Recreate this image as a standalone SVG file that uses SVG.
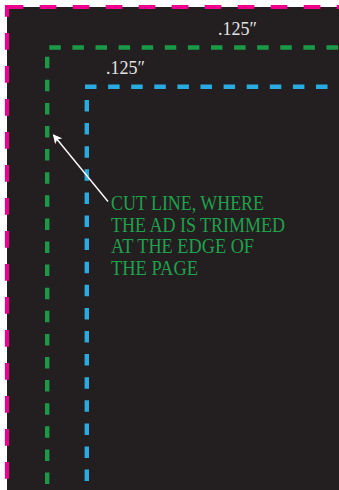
<svg xmlns="http://www.w3.org/2000/svg" width="339" height="490" viewBox="0 0 339 490">
<defs>
<style>
.pink{stroke:#ec008c;stroke-width:4.2;fill:none;stroke-dasharray:16.7 16.3}
.green{stroke:#1a9a47;stroke-width:4.4;fill:none;stroke-dasharray:11.5 11.6}
.blue{stroke:#29abe2;stroke-width:4.4;fill:none;stroke-dasharray:11.5 11.6}
.dim{font-family:"Liberation Serif",serif;font-size:18px;fill:#e2e2e2}
.lbl{font-family:"Liberation Serif",serif;font-size:20px;fill:#1fa14c}
</style>
<marker id="ah" viewBox="0 0 10 10" refX="9" refY="5" markerWidth="10" markerHeight="9" markerUnits="userSpaceOnUse" orient="auto">
<path d="M0,0 L10,5 L0,10 L2.5,5 Z" fill="#ffffff"/>
</marker>
</defs>
<rect width="339" height="490" fill="#ffffff"/>
<rect x="7" y="7" width="332" height="483" fill="#231f20"/>
<g id="bleed-line">
<line class="pink" x1="5" y1="7" x2="339" y2="7" stroke-dashoffset="31.3"/>
<line class="pink" x1="7" y1="5" x2="7" y2="490" stroke-dashoffset="5"/>
</g>
<g id="cut-line">
<line class="green" x1="49.3" y1="47.5" x2="339" y2="47.5"/>
<line class="green" x1="47.2" y1="56.7" x2="47.2" y2="490"/>
</g>
<g id="safe-line">
<line class="blue" x1="85" y1="86.8" x2="339" y2="86.8" stroke-dasharray="13.3 10 11.3 11.7 11.3 12"/>
<line class="blue" x1="86.8" y1="100" x2="86.8" y2="490"/>
</g>
<g id="dim-outer"><text class="dim" x="218" y="35">.125″</text></g>
<g id="dim-inner"><text class="dim" x="106" y="73.5">.125″</text></g>
<g id="connectors">
<line x1="108" y1="201.5" x2="53.5" y2="135" stroke="#ffffff" stroke-width="1.4" marker-end="url(#ah)"/>
</g>
<g id="label">
<text class="lbl" x="111" y="210" textLength="153" lengthAdjust="spacingAndGlyphs">CUT LINE, WHERE</text>
<text class="lbl" x="111" y="231.7" textLength="174" lengthAdjust="spacingAndGlyphs">THE AD IS TRIMMED</text>
<text class="lbl" x="111" y="253.3" textLength="143" lengthAdjust="spacingAndGlyphs">AT THE EDGE OF</text>
<text class="lbl" x="111" y="275" textLength="87" lengthAdjust="spacingAndGlyphs">THE PAGE</text>
</g>
</svg>
